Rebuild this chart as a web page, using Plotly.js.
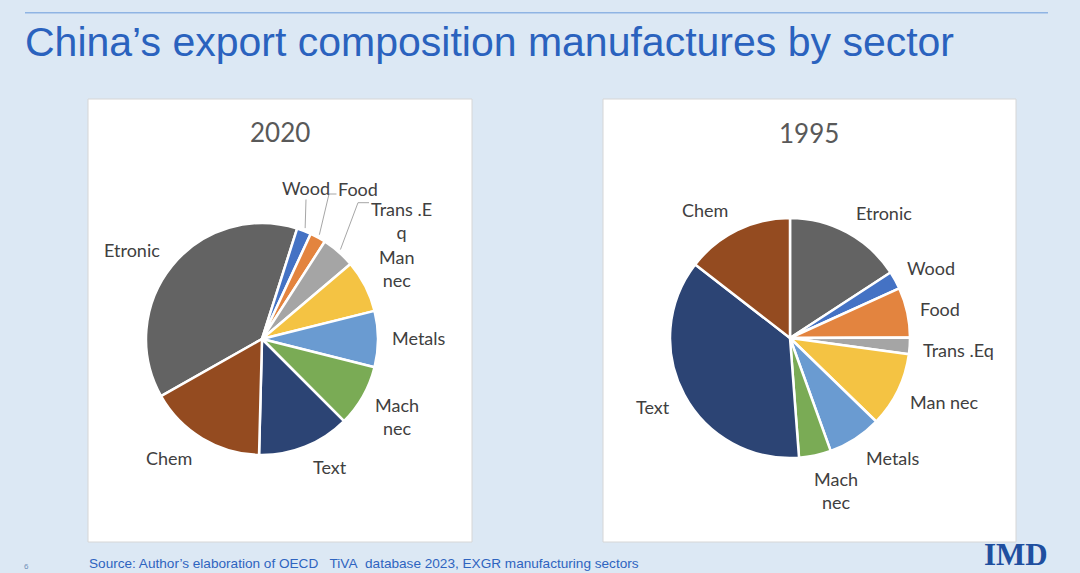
<!DOCTYPE html>
<html>
<head>
<meta charset="utf-8">
<script src="https://cdn.plot.ly/plotly-3.0.1.min.js"></script>
<style>
html,body{margin:0;padding:0;background:#dce8f4;}
#chart{width:1080px;height:573px;}
</style>
</head>
<body>
<div id="chart"></div>
<script>
// ---- data ----
const sectors = ['Etronic','Wood','Food','Trans .Eq','Man nec','Metals','Mach nec','Text','Chem'];
const share2020 = [38.1, 2.0, 2.2, 4.7, 7.3, 7.8, 8.6, 12.9, 16.4];
const share1995 = [15.8, 2.4, 6.75, 2.2, 10.1, 7.25, 4.3, 36.7, 14.5];
const labels2020 = ['Etronic','Wood','Food','Trans .E<br>q','Man<br>nec','Metals','Mach<br>nec','Text','Chem'];
const labels1995 = ['Etronic','Wood','Food','Trans .Eq','Man nec','Metals','Mach<br>nec','Text','Chem'];
const sliceColors = ['#636363','#4472c4','#e3843f','#a5a5a5','#f4c343','#6a9bd1','#7aab55','#2c4474','#944b20'];
const years = ['2020','1995'];
const mainTitle = 'China’s export composition manufactures by sector';
const sourceNote = 'Source: Author’s elaboration of OECD\u00a0\u00a0\u00a0TiVA\u00a0\u00a0database 2023, EXGR manufacturing sectors';

// ---- layout geometry (pixels) ----
const W = 1080, H = 573;
const pies = [
  {cx: 262, cy: 339, r: 116, rot: -119.5, vals: share2020, labs: labels2020,
   panel: [88, 99, 472, 542], titlePos: [280, 132],
   labelPos: [[132,250],[306,188],[358,189],[401,220],[396,268],[419,338],[397,416],[330,467],[169,458]]},
  {cx: 790, cy: 338, r: 120, rot: 0, vals: share1995, labs: labels1995,
   panel: [603, 99, 1016, 542], titlePos: [809, 133],
   labelPos: [[884,213],[931,268],[940,309],[958,350],[944,402],[893,458],[836,490],[653,407],[705,210]]}
];
const px = (x) => x / W;
const py = (y) => 1 - y / H;

const labelFont = {family: 'Lato, "Open Sans", sans-serif', size: 18, color: '#404040'};

const traces = [];
const shapes = [];
const annotations = [];

// top rule
shapes.push({type:'line', xref:'paper', yref:'paper', x0:px(25), x1:px(1048), y0:py(12.7), y1:py(12.7),
  line:{color:'#8fb4e3', width:1.5}, layer:'below'});

pies.forEach((p, k) => {
  // panel
  shapes.push({type:'rect', xref:'paper', yref:'paper', x0:px(p.panel[0]), x1:px(p.panel[2]),
    y0:py(p.panel[3]), y1:py(p.panel[1]), fillcolor:'#ffffff', line:{color:'#d6d6d6', width:1}, layer:'below'});
  traces.push({
    type:'pie', values:p.vals, labels:sectors, sort:false, direction:'clockwise', rotation:p.rot,
    marker:{colors:sliceColors, line:{color:'#ffffff', width:2.5}},
    textinfo:'none', hoverinfo:'label+percent', showlegend:false,
    domain:{x:[px(p.cx - p.r), px(p.cx + p.r)], y:[py(p.cy + p.r), py(p.cy - p.r)]}
  });
  annotations.push({text:years[k], xref:'paper', yref:'paper', x:px(p.titlePos[0]), y:py(p.titlePos[1]),
    xanchor:'center', yanchor:'middle', showarrow:false,
    font:{family:'Lato, "Open Sans", sans-serif', size:26, color:'#595959'}});
  p.labs.forEach((t, i) => {
    annotations.push({text:t, xref:'paper', yref:'paper', x:px(p.labelPos[i][0]), y:py(p.labelPos[i][1]),
      xanchor:'center', yanchor:'middle', showarrow:false, font:labelFont});
  });
});

// leader lines for the small 2020 slices, ending at slice mid-angles computed from the data
(function(){
  const p = pies[0];
  const tot = p.vals.reduce((a,b)=>a+b,0);
  const mids = [];
  let acc = p.rot;
  p.vals.forEach(v => { const a = v / tot * 360; mids.push(acc + a/2); acc += a; });
  const rim = (i) => {
    const t = mids[i] * Math.PI / 180, rr = p.r + 3;
    return [p.cx + rr * Math.sin(t), p.cy - rr * Math.cos(t)];
  };
  const legs = [
    {i:1, pts:[[306,199.5]]},
    {i:2, pts:[[336.5,194],[329,194]]},
    {i:3, pts:[[369,202.7],[358,202.7]]}
  ];
  legs.forEach(l => {
    const all = l.pts.concat([rim(l.i)]);
    const d = all.map((q,j) => (j ? 'L' : 'M') + px(q[0]).toFixed(5) + ',' + py(q[1]).toFixed(5)).join(' ');
    shapes.push({type:'path', xref:'paper', yref:'paper', path:d, line:{color:'#a6a6a6', width:1}});
  });
})();

// titles and notes
annotations.push({text:mainTitle, xref:'paper', yref:'paper', x:px(23), y:py(42), xanchor:'left', yanchor:'middle',
  showarrow:false, font:{family:'"Liberation Sans", Arial, sans-serif', size:41, color:'#2a62be'}});
annotations.push({text:sourceNote, xref:'paper', yref:'paper', x:px(87), y:py(563.5), xanchor:'left', yanchor:'middle',
  showarrow:false, font:{family:'"Liberation Sans", Arial, sans-serif', size:13.6, color:'#2e64c0'}});
annotations.push({text:'<b>IMD</b>', xref:'paper', yref:'paper', x:px(1049), y:py(573), xanchor:'right', yanchor:'bottom',
  showarrow:false, borderpad:0, font:{family:'"Liberation Serif", serif', size:31, color:'#1f4f9f'}});
annotations.push({text:'6', xref:'paper', yref:'paper', x:px(26), y:py(566), xanchor:'center', yanchor:'middle',
  showarrow:false, font:{family:'"Liberation Sans", Arial, sans-serif', size:8, color:'#6f8fb8'}});

const layout = {
  width: W, height: H, margin:{l:0, r:0, t:0, b:0},
  paper_bgcolor:'#dce8f4', plot_bgcolor:'#dce8f4',
  showlegend:false, shapes:shapes, annotations:annotations
};
Plotly.newPlot('chart', traces, layout, {displayModeBar:false, responsive:false});
</script>
</body>
</html>
